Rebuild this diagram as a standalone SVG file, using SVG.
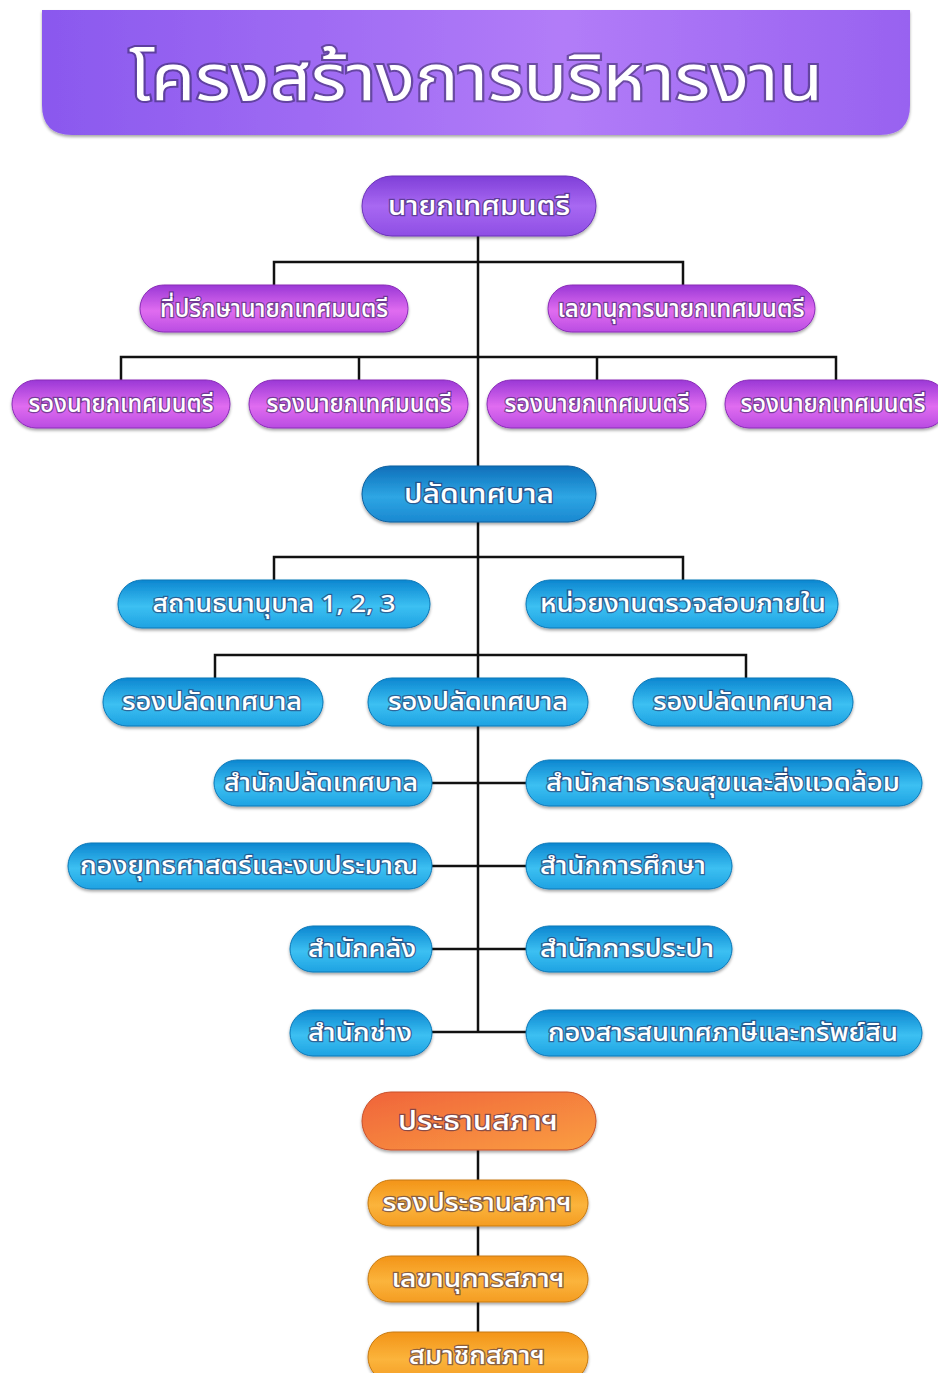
<svg xmlns="http://www.w3.org/2000/svg" width="938" height="1373" viewBox="0 0 938 1373">
<defs>
<linearGradient id="gTitle" x1="0" y1="0" x2="1" y2="0">
<stop offset="0" stop-color="#8a58ee"/><stop offset="0.6" stop-color="#b27cf8"/><stop offset="1" stop-color="#9862f0"/>
</linearGradient>
<linearGradient id="gP1" x1="0" y1="0" x2="0" y2="1">
<stop offset="0" stop-color="#7f3fd8"/><stop offset="0.5" stop-color="#a868f2"/><stop offset="1" stop-color="#8e4ee4"/>
</linearGradient>
<linearGradient id="gP2" x1="0" y1="0" x2="0" y2="1">
<stop offset="0" stop-color="#9a38d6"/><stop offset="0.55" stop-color="#e06cf0"/><stop offset="1" stop-color="#b94ce2"/>
</linearGradient>
<linearGradient id="gB1" x1="0" y1="0" x2="0" y2="1">
<stop offset="0" stop-color="#0d6fba"/><stop offset="0.55" stop-color="#2ea6e4"/><stop offset="1" stop-color="#1a88d0"/>
</linearGradient>
<linearGradient id="gB2" x1="0" y1="0" x2="0" y2="1">
<stop offset="0" stop-color="#0c86d0"/><stop offset="0.55" stop-color="#3cc0f2"/><stop offset="1" stop-color="#1ea2e2"/>
</linearGradient>
<linearGradient id="gO1" x1="0" y1="0" x2="1" y2="1">
<stop offset="0" stop-color="#f0643a"/><stop offset="1" stop-color="#fa9e42"/>
</linearGradient>
<linearGradient id="gO2" x1="0" y1="0" x2="0" y2="1">
<stop offset="0" stop-color="#f39418"/><stop offset="0.55" stop-color="#fbb43c"/><stop offset="1" stop-color="#f49c22"/>
</linearGradient>
<filter id="sh" x="-10%" y="-20%" width="120%" height="150%">
<feDropShadow dx="0" dy="2" stdDeviation="1.5" flood-color="#000" flood-opacity="0.35"/>
</filter>
</defs>
<style>
text{font-family:'Noto Sans Thai','Noto Sans','Noto Sans CJK SC',sans-serif;fill:#fff;text-anchor:middle;font-weight:500;stroke:#2a2050;stroke-opacity:0.55;stroke-width:2.5;paint-order:stroke;}
.t{font-size:24px}
.big{font-size:26px}
.title{font-size:64px;font-weight:400;stroke-width:4;stroke-opacity:0.5}
.line{stroke:#111;stroke-width:2.5;fill:none}
rect{filter:url(#sh)}
.p1{fill:url(#gP1);stroke:#6a32b8;stroke-width:1}
.p2{fill:url(#gP2);stroke:#8a2cb8;stroke-width:1}
.b1{fill:url(#gB1);stroke:#0a5f9e;stroke-width:1}
.b2{fill:url(#gB2);stroke:#0a78b8;stroke-width:1}
.o1{fill:url(#gO1);stroke:#c8502a;stroke-width:1}
.o2{fill:url(#gO2);stroke:#c87a10;stroke-width:1}
</style>

<g id="title">
<path d="M42,10 H910 V105 Q910,135 880,135 H72 Q42,135 42,105 Z" fill="url(#gTitle)" filter="url(#sh)"/>
<text class="title" x="476" y="100" textLength="694" lengthAdjust="spacingAndGlyphs">โครงสร้างการบริหารงาน</text>
</g>

<g id="connectors">
<line class="line" x1="478" y1="236" x2="478" y2="1032"/>
<polyline class="line" points="274,288 274,262 683,262 683,288"/>
<polyline class="line" points="121,382 121,357 836,357 836,382"/>
<line class="line" x1="359" y1="357" x2="359" y2="382"/>
<line class="line" x1="597" y1="357" x2="597" y2="382"/>
<polyline class="line" points="274,582 274,557 683,557 683,582"/>
<polyline class="line" points="215,680 215,655 746,655 746,680"/>
<line class="line" x1="432" y1="783" x2="526" y2="783"/>
<line class="line" x1="432" y1="866" x2="526" y2="866"/>
<line class="line" x1="432" y1="949" x2="526" y2="949"/>
<line class="line" x1="432" y1="1032" x2="526" y2="1032"/>
<line class="line" x1="478" y1="1150" x2="478" y2="1180"/>
<line class="line" x1="478" y1="1226" x2="478" y2="1256"/>
<line class="line" x1="478" y1="1302" x2="478" y2="1332"/>
</g>

<g id="mayor"><rect class="p1" x="362" y="176" width="234" height="60" rx="30"/><text class="big" x="479" y="215" textLength="182" lengthAdjust="spacingAndGlyphs">นายกเทศมนตรี</text></g>
<g id="advisor"><rect class="p2" x="140" y="285" width="268" height="47" rx="23.5"/><text class="t" x="274" y="317" textLength="228" lengthAdjust="spacingAndGlyphs">ที่ปรึกษานายกเทศมนตรี</text></g>
<g id="secretary"><rect class="p2" x="548" y="285" width="267" height="47" rx="23.5"/><text class="t" x="681" y="317" textLength="247" lengthAdjust="spacingAndGlyphs">เลขานุการนายกเทศมนตรี</text></g>
<g id="deputy1"><rect class="p2" x="12" y="380" width="218" height="48" rx="24"/><text class="t" x="121" y="412" textLength="185" lengthAdjust="spacingAndGlyphs">รองนายกเทศมนตรี</text></g>
<g id="deputy2"><rect class="p2" x="249" y="380" width="219" height="48" rx="24"/><text class="t" x="359" y="412" textLength="185" lengthAdjust="spacingAndGlyphs">รองนายกเทศมนตรี</text></g>
<g id="deputy3"><rect class="p2" x="487" y="380" width="219" height="48" rx="24"/><text class="t" x="597" y="412" textLength="185" lengthAdjust="spacingAndGlyphs">รองนายกเทศมนตรี</text></g>
<g id="deputy4"><rect class="p2" x="725" y="380" width="222" height="48" rx="24"/><text class="t" x="833" y="412" textLength="185" lengthAdjust="spacingAndGlyphs">รองนายกเทศมนตรี</text></g>

<g id="clerk"><rect class="b1" x="362" y="466" width="234" height="56" rx="28"/><text class="big" x="479" y="503" textLength="150" lengthAdjust="spacingAndGlyphs">ปลัดเทศบาล</text></g>
<g id="pawnshop"><rect class="b2" x="118" y="580" width="312" height="48" rx="24"/><text class="t" x="274" y="612" textLength="243" lengthAdjust="spacingAndGlyphs">สถานธนานุบาล 1, 2, 3</text></g>
<g id="audit"><rect class="b2" x="526" y="580" width="312" height="48" rx="24"/><text class="t" x="683" y="612" textLength="286" lengthAdjust="spacingAndGlyphs">หน่วยงานตรวจสอบภายใน</text></g>
<g id="depclerk1"><rect class="b2" x="103" y="678" width="220" height="48" rx="24"/><text class="t" x="212" y="710" textLength="180" lengthAdjust="spacingAndGlyphs">รองปลัดเทศบาล</text></g>
<g id="depclerk2"><rect class="b2" x="368" y="678" width="220" height="48" rx="24"/><text class="t" x="478" y="710" textLength="180" lengthAdjust="spacingAndGlyphs">รองปลัดเทศบาล</text></g>
<g id="depclerk3"><rect class="b2" x="633" y="678" width="220" height="48" rx="24"/><text class="t" x="743" y="710" textLength="180" lengthAdjust="spacingAndGlyphs">รองปลัดเทศบาล</text></g>

<g id="office-clerk"><rect class="b2" x="214" y="760" width="218" height="46" rx="23"/><text class="t" x="321" y="791" textLength="194" lengthAdjust="spacingAndGlyphs">สำนักปลัดเทศบาล</text></g>
<g id="office-health"><rect class="b2" x="526" y="760" width="396" height="46" rx="23"/><text class="t" x="723" y="791" textLength="354" lengthAdjust="spacingAndGlyphs">สำนักสาธารณสุขและสิ่งแวดล้อม</text></g>
<g id="div-strategy"><rect class="b2" x="68" y="843" width="364" height="46" rx="23"/><text class="t" x="249" y="874" textLength="338" lengthAdjust="spacingAndGlyphs">กองยุทธศาสตร์และงบประมาณ</text></g>
<g id="office-edu"><rect class="b2" x="526" y="843" width="206" height="46" rx="23"/><text class="t" x="623" y="874" textLength="166" lengthAdjust="spacingAndGlyphs">สำนักการศึกษา</text></g>
<g id="office-finance"><rect class="b2" x="290" y="926" width="142" height="46" rx="23"/><text class="t" x="362" y="957" textLength="108" lengthAdjust="spacingAndGlyphs">สำนักคลัง</text></g>
<g id="office-water"><rect class="b2" x="526" y="926" width="206" height="46" rx="23"/><text class="t" x="627" y="957" textLength="174" lengthAdjust="spacingAndGlyphs">สำนักการประปา</text></g>
<g id="office-eng"><rect class="b2" x="290" y="1010" width="142" height="46" rx="23"/><text class="t" x="360" y="1041" textLength="104" lengthAdjust="spacingAndGlyphs">สำนักช่าง</text></g>
<g id="div-tax"><rect class="b2" x="526" y="1010" width="396" height="46" rx="23"/><text class="t" x="723" y="1041" textLength="350" lengthAdjust="spacingAndGlyphs">กองสารสนเทศภาษีและทรัพย์สิน</text></g>

<g id="council-chair"><rect class="o1" x="362" y="1092" width="234" height="58" rx="29"/><text class="big" x="478" y="1130" textLength="160" lengthAdjust="spacingAndGlyphs">ประธานสภาฯ</text></g>
<g id="council-vice"><rect class="o2" x="368" y="1180" width="220" height="46" rx="23"/><text class="t" x="477" y="1211" textLength="189" lengthAdjust="spacingAndGlyphs">รองประธานสภาฯ</text></g>
<g id="council-sec"><rect class="o2" x="368" y="1256" width="220" height="46" rx="23"/><text class="t" x="478" y="1287" textLength="173" lengthAdjust="spacingAndGlyphs">เลขานุการสภาฯ</text></g>
<g id="council-member"><rect class="o2" x="368" y="1332" width="220" height="50" rx="25"/><text class="t" x="477" y="1364" textLength="136" lengthAdjust="spacingAndGlyphs">สมาชิกสภาฯ</text></g>
</svg>
